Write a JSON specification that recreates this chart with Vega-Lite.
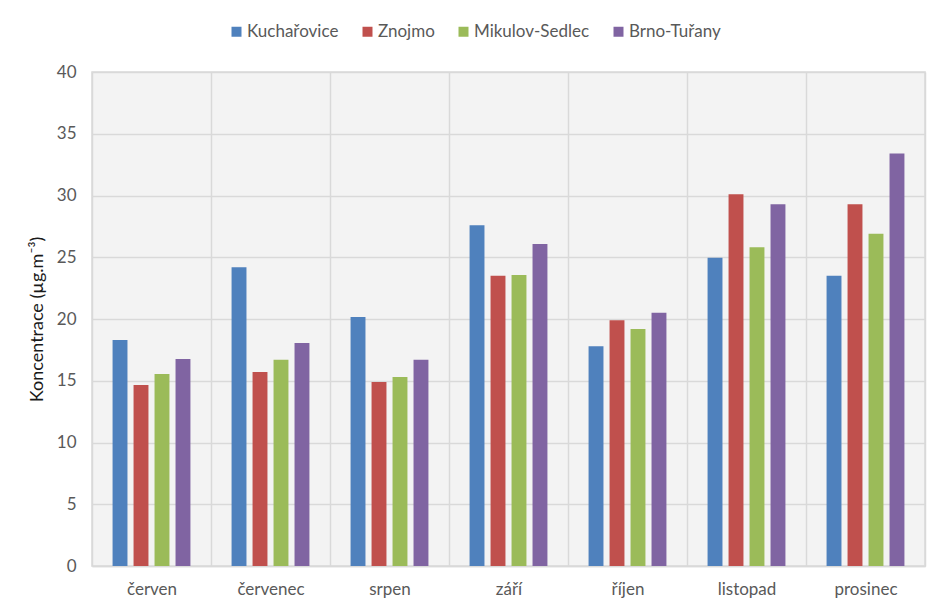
{
  "$schema": "https://vega.github.io/schema/vega-lite/v6.json",
  "width": 833,
  "height": 494,
  "autosize": {"type": "none"},
  "padding": {"left": 92, "top": 72, "right": 22, "bottom": 50},
  "background": "white",
  "data": {
    "values": [
      {"month": "červen", "station": "Kuchařovice", "value": 18.3},
      {"month": "červen", "station": "Znojmo", "value": 14.65},
      {"month": "červen", "station": "Mikulov-Sedlec", "value": 15.55},
      {"month": "červen", "station": "Brno-Tuřany", "value": 16.76},
      {"month": "červenec", "station": "Kuchařovice", "value": 24.2},
      {"month": "červenec", "station": "Znojmo", "value": 15.7},
      {"month": "červenec", "station": "Mikulov-Sedlec", "value": 16.7},
      {"month": "červenec", "station": "Brno-Tuřany", "value": 18.06},
      {"month": "srpen", "station": "Kuchařovice", "value": 20.16},
      {"month": "srpen", "station": "Znojmo", "value": 14.9},
      {"month": "srpen", "station": "Mikulov-Sedlec", "value": 15.3},
      {"month": "srpen", "station": "Brno-Tuřany", "value": 16.7},
      {"month": "září", "station": "Kuchařovice", "value": 27.6},
      {"month": "září", "station": "Znojmo", "value": 23.5},
      {"month": "září", "station": "Mikulov-Sedlec", "value": 23.56},
      {"month": "září", "station": "Brno-Tuřany", "value": 26.07},
      {"month": "říjen", "station": "Kuchařovice", "value": 17.8},
      {"month": "říjen", "station": "Znojmo", "value": 19.9},
      {"month": "říjen", "station": "Mikulov-Sedlec", "value": 19.2},
      {"month": "říjen", "station": "Brno-Tuřany", "value": 20.5},
      {"month": "listopad", "station": "Kuchařovice", "value": 24.95},
      {"month": "listopad", "station": "Znojmo", "value": 30.1},
      {"month": "listopad", "station": "Mikulov-Sedlec", "value": 25.8},
      {"month": "listopad", "station": "Brno-Tuřany", "value": 29.3},
      {"month": "prosinec", "station": "Kuchařovice", "value": 23.5},
      {"month": "prosinec", "station": "Znojmo", "value": 29.3},
      {"month": "prosinec", "station": "Mikulov-Sedlec", "value": 26.9},
      {"month": "prosinec", "station": "Brno-Tuřany", "value": 33.4}
    ]
  },
  "mark": {"type": "bar"},
  "encoding": {
    "x": {
      "field": "month",
      "type": "nominal",
      "sort": ["červen", "červenec", "srpen", "září", "říjen", "listopad", "prosinec"],
      "scale": {"paddingInner": 0, "paddingOuter": 0},
      "axis": {
        "title": null,
        "labelAngle": 0,
        "tickBand": "extent",
        "ticks": false,
        "grid": true,
        "gridColor": "#d9d9d9",
        "gridWidth": 1.5,
        "domainColor": "#d9d9d9",
        "domainWidth": 1.5,
        "labelPadding": 15,
        "labelFont": "Lato",
        "labelFontSize": 17,
        "labelColor": "#595959"
      }
    },
    "xOffset": {
      "field": "station",
      "sort": ["Kuchařovice", "Znojmo", "Mikulov-Sedlec", "Brno-Tuřany"],
      "scale": {"paddingInner": 0.29, "paddingOuter": 0.98}
    },
    "y": {
      "field": "value",
      "type": "quantitative",
      "scale": {"domain": [0, 40], "nice": false},
      "axis": {
        "title": "Koncentrace (µg.m⁻³)",
        "values": [0, 5, 10, 15, 20, 25, 30, 35, 40],
        "domain": false,
        "ticks": false,
        "grid": true,
        "gridColor": "#d9d9d9",
        "gridWidth": 1.5,
        "labelPadding": 16,
        "labelFont": "Lato",
        "labelFontSize": 17,
        "labelColor": "#595959",
        "titleFont": "Lato",
        "titleFontSize": 18,
        "titleFontWeight": "normal",
        "titleColor": "#1a1a1a",
        "titlePadding": 10
      }
    },
    "color": {
      "field": "station",
      "type": "nominal",
      "sort": ["Kuchařovice", "Znojmo", "Mikulov-Sedlec", "Brno-Tuřany"],
      "scale": {
        "domain": ["Kuchařovice", "Znojmo", "Mikulov-Sedlec", "Brno-Tuřany"],
        "range": ["#4F81BD", "#C0504D", "#9BBB59", "#8064A2"]
      },
      "legend": {
        "title": null,
        "orient": "none",
        "direction": "horizontal",
        "legendX": 136,
        "legendY": -49,
        "symbolType": "square",
        "symbolSize": 100,
        "symbolStrokeWidth": 0,
        "labelFont": "Lato",
        "labelFontSize": 17,
        "labelColor": "#595959",
        "labelOffset": 2,
        "columnPadding": 20
      }
    }
  },
  "config": {
    "view": {"fill": "#f3f3f3", "stroke": "#d9d9d9", "strokeWidth": 1.5}
  }
}
